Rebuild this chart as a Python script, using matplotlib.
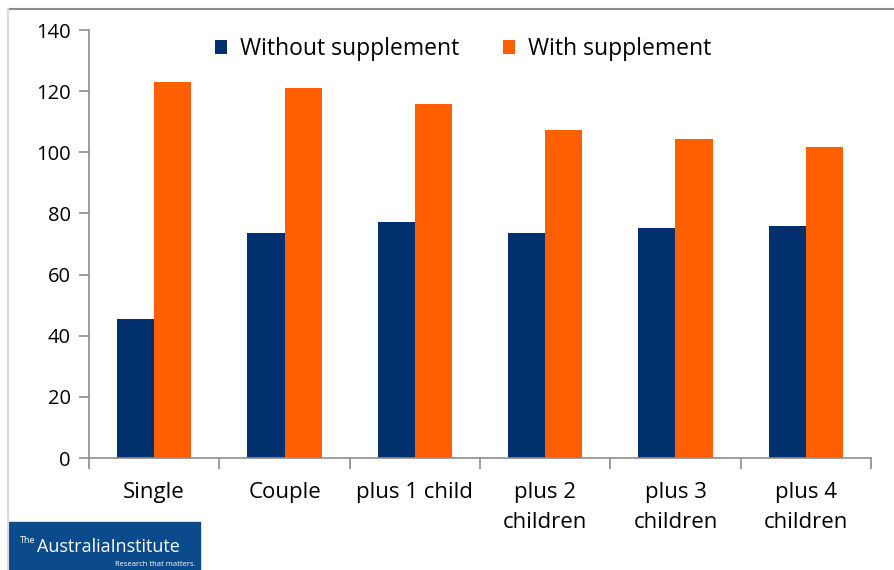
import numpy as np
import matplotlib.pyplot as plt
from matplotlib.patches import Rectangle
from matplotlib.lines import Line2D

categories = ["Single", "Couple", "plus 1 child", "plus 2\nchildren", "plus 3\nchildren", "plus 4\nchildren"]
without_supp = [45.5, 73.5, 77.2, 73.5, 75.2, 75.9]
with_supp = [123.0, 121.0, 115.8, 107.3, 104.3, 101.6]
series_names = ["Without supplement", "With supplement"]
y_ticks = [0, 20, 40, 60, 80, 100, 120, 140]

BLUE = "#00306E"
ORANGE = "#FF5F00"
GREY = "#8C8C8C"

plt.rcParams['font.family'] = ['Open Sans', 'DejaVu Sans']

fig = plt.figure(figsize=(8.94, 5.70), dpi=100)
ax = fig.add_axes([89 / 894, 1 - 458 / 570, 782 / 894, 428 / 570])

x = np.arange(len(categories))
w = 0.285
ax.bar(x - w / 2, without_supp, w, color=BLUE, label=series_names[0])
ax.bar(x + w / 2, with_supp, w, color=ORANGE, label=series_names[1])

ax.set_xlim(-0.5, len(categories) - 0.5)
ax.set_ylim(0, 140)
ax.set_yticks(y_ticks)
ax.set_xticks(x)
ax.set_xticklabels(categories, linespacing=1.6)
ax.set_xticks(np.arange(-0.5, len(categories)), minor=True)

for side in ("top", "right"):
    ax.spines[side].set_visible(False)
for side in ("left", "bottom"):
    ax.spines[side].set_color(GREY)
    ax.spines[side].set_linewidth(1.2)

ax.tick_params(axis="y", length=7, width=1.2, color=GREY, labelsize=14.5, pad=6)
ax.tick_params(axis="x", which="major", length=0, labelsize=16, pad=17)
ax.tick_params(axis="x", which="minor", length=8, width=1.2, color=GREY)

leg = ax.legend(loc="center", bbox_to_anchor=(0.478, 0.955), ncol=2, frameon=False,
                fontsize=16.5, handlelength=0.55, handleheight=0.55, handletextpad=0.55,
                columnspacing=1.9)

# outer frame around the chart
fig.add_artist(Line2D([8 / 894, 1], [1 - 9 / 570, 1 - 9 / 570], color=GREY, lw=1.5))
fig.add_artist(Line2D([8 / 894, 8 / 894], [0, 1 - 9 / 570], color="#D9D9D9", lw=1.5))

# logo block, bottom left
fig.add_artist(Rectangle((8 / 894, 0), 192 / 894, 48 / 570, color="#0B4A8B"))
fig.text(20 / 894, 1 - 545 / 570, "The", color="white", fontsize=6.5, va="bottom")
fig.text(37 / 894, 1 - 556 / 570, "AustraliaInstitute", color="white", fontsize=13,
         va="bottom")
fig.text(196 / 894, 1 - 568 / 570, "Research that matters.", color="white", fontsize=5.5,
         ha="right", va="bottom")

fig.savefig("out.png", dpi=100)
